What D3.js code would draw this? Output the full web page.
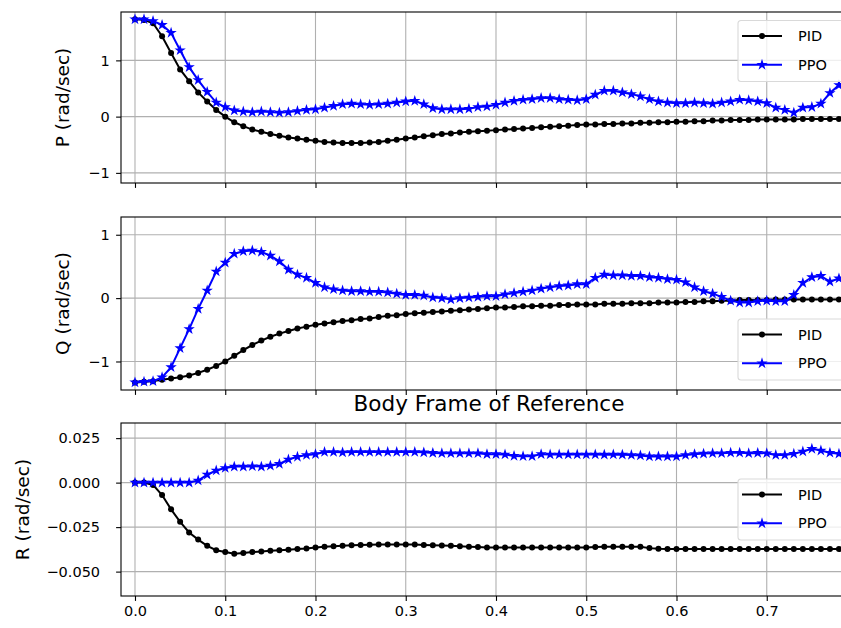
<!DOCTYPE html>
<html>
<head>
<meta charset="utf-8">
<script src="https://cdn.jsdelivr.net/npm/d3@7"></script>
<style>
  body { margin: 0; background: #fff; }
  svg { display: block; overflow: hidden; }
  text { font-family: "DejaVu Sans", sans-serif; }
</style>
</head>
<body>
<div id="wrapper"></div>
<script>
// time (sec)
const time = [0.00,0.01,0.02,0.03,0.04,0.05,0.06,0.07,0.08,0.09,0.10,0.11,0.12,0.13,0.14,0.15,0.16,0.17,0.18,0.19,
  0.20,0.21,0.22,0.23,0.24,0.25,0.26,0.27,0.28,0.29,0.30,0.31,0.32,0.33,0.34,0.35,0.36,0.37,0.38,0.39,
  0.40,0.41,0.42,0.43,0.44,0.45,0.46,0.47,0.48,0.49,0.50,0.51,0.52,0.53,0.54,0.55,0.56,0.57,0.58,0.59,
  0.60,0.61,0.62,0.63,0.64,0.65,0.66,0.67,0.68,0.69,0.70,0.71,0.72,0.73,0.74,0.75,0.76,0.77,0.78,0.79,0.80]

const pPID = [1.73,1.72,1.66,1.43,1.13,0.84,0.63,0.43,0.27,0.12,0.00,-0.10,-0.17,-0.23,-0.27,-0.31,-0.34,-0.37,-0.39,-0.41,
  -0.43,-0.45,-0.46,-0.47,-0.47,-0.47,-0.46,-0.45,-0.43,-0.41,-0.39,-0.37,-0.35,-0.33,-0.31,-0.30,-0.28,-0.27,-0.26,-0.25,
  -0.24,-0.23,-0.22,-0.21,-0.20,-0.19,-0.18,-0.17,-0.16,-0.15,-0.14,-0.14,-0.13,-0.13,-0.12,-0.12,-0.11,-0.11,-0.10,-0.10,
  -0.09,-0.09,-0.08,-0.08,-0.07,-0.07,-0.06,-0.06,-0.06,-0.05,-0.05,-0.05,-0.05,-0.05,-0.04,-0.04,-0.04,-0.04,-0.04,-0.04,-0.04]
const pPPO = [1.73,1.73,1.70,1.63,1.49,1.18,0.88,0.65,0.44,0.25,0.17,0.11,0.09,0.08,0.09,0.08,0.07,0.08,0.10,0.12,
  0.13,0.16,0.19,0.22,0.23,0.22,0.21,0.22,0.23,0.25,0.27,0.28,0.22,0.15,0.13,0.13,0.13,0.14,0.17,0.18,
  0.21,0.25,0.28,0.30,0.31,0.33,0.33,0.31,0.30,0.29,0.31,0.39,0.46,0.46,0.43,0.40,0.36,0.31,0.27,0.25,
  0.24,0.24,0.25,0.24,0.23,0.25,0.27,0.30,0.29,0.27,0.24,0.16,0.12,0.07,0.16,0.17,0.23,0.42,0.56,0.65,0.72]

const qPID = [-1.33,-1.32,-1.31,-1.29,-1.27,-1.25,-1.22,-1.18,-1.13,-1.07,-1.00,-0.91,-0.82,-0.74,-0.67,-0.61,-0.56,-0.52,-0.48,-0.45,
  -0.42,-0.40,-0.38,-0.36,-0.35,-0.33,-0.32,-0.30,-0.28,-0.27,-0.25,-0.24,-0.23,-0.22,-0.21,-0.20,-0.19,-0.18,-0.17,-0.16,
  -0.15,-0.15,-0.14,-0.13,-0.13,-0.12,-0.12,-0.11,-0.11,-0.10,-0.10,-0.10,-0.09,-0.09,-0.09,-0.08,-0.08,-0.08,-0.07,-0.07,
  -0.07,-0.06,-0.06,-0.05,-0.05,-0.04,-0.04,-0.03,-0.03,-0.03,-0.03,-0.02,-0.02,-0.02,-0.02,-0.02,-0.02,-0.02,-0.02,-0.02,-0.02]
const qPPO = [-1.33,-1.32,-1.31,-1.25,-1.09,-0.79,-0.49,-0.17,0.12,0.42,0.56,0.70,0.74,0.75,0.73,0.67,0.58,0.45,0.37,0.32,
  0.24,0.17,0.14,0.12,0.11,0.11,0.10,0.10,0.09,0.07,0.05,0.05,0.04,0.01,0.00,-0.02,0.00,0.01,0.02,0.03,
  0.03,0.06,0.08,0.10,0.12,0.15,0.17,0.19,0.20,0.22,0.22,0.32,0.37,0.36,0.36,0.35,0.35,0.33,0.32,0.30,
  0.29,0.25,0.17,0.11,0.07,0.02,-0.04,-0.07,-0.07,-0.05,-0.04,-0.05,-0.05,0.05,0.24,0.33,0.35,0.26,0.31,0.33,0.34]

const rPID = [0,0,-0.0013,-0.007,-0.015,-0.022,-0.028,-0.032,-0.0355,-0.038,-0.039,-0.040,-0.0395,-0.039,-0.0387,-0.0383,-0.038,-0.0377,-0.0373,-0.037,
  -0.0365,-0.036,-0.0357,-0.0355,-0.0352,-0.035,-0.0349,-0.0348,-0.0348,-0.0347,-0.0347,-0.0348,-0.035,-0.0352,-0.0353,-0.0355,-0.0357,-0.036,-0.0362,-0.0364,
  -0.0365,-0.0365,-0.0365,-0.0365,-0.0365,-0.0365,-0.0365,-0.0365,-0.0365,-0.0365,-0.0365,-0.0362,-0.036,-0.036,-0.036,-0.036,-0.036,-0.0368,-0.0372,-0.0373,
  -0.0373,-0.0373,-0.0373,-0.0373,-0.0373,-0.0373,-0.0373,-0.0373,-0.0373,-0.0373,-0.0373,-0.0373,-0.0373,-0.0373,-0.0373,-0.0373,-0.0373,-0.0373,-0.0373,-0.0373,-0.0373]
const rPPO = [0,0,0,0,0,0,0,0.0012,0.0045,0.0068,0.0082,0.009,0.009,0.0092,0.009,0.0095,0.0105,0.013,0.0145,0.0155,
  0.016,0.0172,0.0172,0.017,0.0172,0.0172,0.0172,0.0172,0.0172,0.0172,0.0172,0.0172,0.017,0.0167,0.0165,0.0165,0.0165,0.0165,0.0165,0.016,
  0.016,0.0158,0.015,0.0148,0.0148,0.016,0.0158,0.0158,0.0158,0.0158,0.0158,0.0158,0.0157,0.0158,0.0157,0.0155,0.0153,0.0147,0.0147,0.0147,
  0.0147,0.0155,0.016,0.0163,0.0165,0.0165,0.0168,0.0168,0.0165,0.0167,0.0165,0.0155,0.0155,0.0162,0.0175,0.019,0.018,0.0168,0.0162,0.016,0.016]

const xTicks = [0.0,0.1,0.2,0.3,0.4,0.5,0.6,0.7]

const panels = [
  {label: "P (rad/sec)", pid: pPID, ppo: pPPO, domain: [-1.18, 1.86], ticks: [-1, 0, 1], fmt: d3.format("d"),
   top: 12, bottom: 183, labelX: 62, tickPad: 6.5, legend: "upper", title: null},
  {label: "Q (rad/sec)", pid: qPID, ppo: qPPO, domain: [-1.45, 1.28], ticks: [-1, 0, 1], fmt: d3.format("d"),
   top: 217, bottom: 390, labelX: 62, tickPad: 6.5, legend: "lower", title: null},
  {label: "R (rad/sec)", pid: rPID, ppo: rPPO, domain: [-0.0637, 0.0335], ticks: [-0.05, -0.025, 0, 0.025], fmt: d3.format(".3f"),
   top: 423, bottom: 596, labelX: 22, tickPad: 16, legend: "center", title: "Body Frame of Reference"}
]

const width = 841
const height = 628
const left = 121
const right = 857

const svg = d3.select("#wrapper").append("svg")
  .attr("width", width)
  .attr("height", height)

const xScale = d3.scaleLinear()
  .domain([-0.0155, 0.8])
  .range([left, right])

const minus = s => s.replace("-", "\u2212")
const starSize = 40

panels.forEach((p, i) => {
  const yScale = d3.scaleLinear().domain(p.domain).range([p.bottom, p.top])
  const g = svg.append("g")

  const clipId = "clip" + i
  g.append("clipPath").attr("id", clipId)
    .append("rect")
    .attr("x", left).attr("y", p.top)
    .attr("width", right - left).attr("height", p.bottom - p.top)

  // grid
  g.append("g").selectAll("line").data(xTicks).join("line")
    .attr("x1", d => xScale(d)).attr("x2", d => xScale(d))
    .attr("y1", p.top).attr("y2", p.bottom)
    .attr("stroke", "#b0b0b0").attr("stroke-width", 1.1)
  g.append("g").selectAll("line").data(p.ticks).join("line")
    .attr("x1", left).attr("x2", right)
    .attr("y1", d => yScale(d)).attr("y2", d => yScale(d))
    .attr("stroke", "#b0b0b0").attr("stroke-width", 1.1)

  // lines + markers
  const lineGen = vals => d3.line()
    .x((d, j) => xScale(time[j]))
    .y(d => yScale(d))(vals)

  const plot = g.append("g").attr("clip-path", `url(#${clipId})`)

  plot.append("path")
    .attr("d", lineGen(p.pid))
    .attr("fill", "none").attr("stroke", "black").attr("stroke-width", 2)
  plot.append("g").selectAll("circle").data(p.pid).join("circle")
    .attr("cx", (d, j) => xScale(time[j]))
    .attr("cy", d => yScale(d))
    .attr("r", 3)
    .attr("fill", "black")

  plot.append("path")
    .attr("d", lineGen(p.ppo))
    .attr("fill", "none").attr("stroke", "blue").attr("stroke-width", 2)
  plot.append("g").selectAll("path").data(p.ppo).join("path")
    .attr("d", d3.symbol().type(d3.symbolStar).size(starSize))
    .attr("transform", (d, j) => `translate(${xScale(time[j])},${yScale(d)})`)
    .attr("fill", "blue")

  // axes
  const yAxis = g.append("g")
    .attr("transform", `translate(${left},0)`)
    .call(d3.axisLeft(yScale).tickValues(p.ticks).tickSize(4.9).tickPadding(p.tickPad)
      .tickFormat(d => minus(p.fmt(d))))
  const xAxis = g.append("g")
    .attr("transform", `translate(0,${p.bottom})`)
    .call(d3.axisBottom(xScale).tickValues(xTicks).tickSize(4.9).tickPadding(4.9)
      .tickFormat(i === 2 ? d3.format(".1f") : ""))
  ;[yAxis, xAxis].forEach(a => {
    a.select(".domain").remove()
    a.selectAll(".tick line").attr("stroke", "black").attr("stroke-width", 1.1)
    a.selectAll(".tick text").attr("fill", "black").style("font-size", "14.5px")
      .style("font-family", "DejaVu Sans, sans-serif")
  })

  // frame
  g.append("rect")
    .attr("x", left).attr("y", p.top)
    .attr("width", right - left).attr("height", p.bottom - p.top)
    .attr("fill", "none").attr("stroke", "black").attr("stroke-width", 1.1)

  // y label
  g.append("text")
    .attr("transform", `translate(${p.labelX},${(p.top + p.bottom) / 2}) rotate(-90)`)
    .attr("text-anchor", "middle")
    .attr("dominant-baseline", "central")
    .style("font-size", "18.5px")
    .text(p.label)

  if (p.title) {
    svg.append("text")
      .attr("x", (left + right) / 2)
      .attr("y", p.top - 12)
      .attr("text-anchor", "middle")
      .style("font-size", "21.5px")
      .text(p.title)
  }

  // legend
  const lh = 61
  let ly
  if (p.legend === "upper") ly = p.top + 8.5
  else if (p.legend === "lower") ly = p.bottom - 10 - lh
  else ly = (p.top + p.bottom) / 2 - lh / 2
  const lx = 738
  const leg = g.append("g").attr("transform", `translate(${lx},${ly})`)
  leg.append("rect")
    .attr("x", 0).attr("y", 0).attr("width", 113).attr("height", lh)
    .attr("rx", 3)
    .attr("fill", "white").attr("fill-opacity", 0.8)
    .attr("stroke", "#d9d9d9").attr("stroke-width", 1.1)
  const items = [
    {name: "PID", color: "black", sym: "dot"},
    {name: "PPO", color: "blue", sym: "star"}
  ]
  items.forEach((it, k) => {
    const yy = 15.5 + k * 28.8
    leg.append("line")
      .attr("x1", 4).attr("x2", 44).attr("y1", yy).attr("y2", yy)
      .attr("stroke", it.color).attr("stroke-width", 2)
    if (it.sym === "dot") {
      leg.append("circle").attr("cx", 24).attr("cy", yy).attr("r", 3).attr("fill", it.color)
    } else {
      leg.append("path")
        .attr("d", d3.symbol().type(d3.symbolStar).size(starSize))
        .attr("transform", `translate(24,${yy})`)
        .attr("fill", it.color)
    }
    leg.append("text")
      .attr("x", 60).attr("y", yy)
      .attr("dominant-baseline", "central")
      .style("font-size", "14.5px")
      .text(it.name)
  })
})
</script>
</body>
</html>
